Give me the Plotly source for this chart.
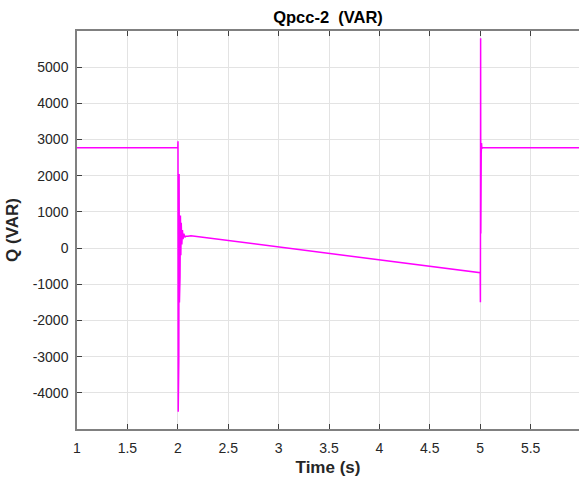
import plotly.graph_objects as go

# Time (s) and reactive power Q (VAR)
time_s = [1.0, 2.0, 2.002, 2.004, 2.006, 2.008, 2.010, 2.013, 2.016, 2.019, 2.022,
          2.026, 2.030, 2.034, 2.040, 2.046, 2.052, 2.060, 2.070, 2.080, 2.100, 2.130,
          5.0, 5.002, 5.004, 5.006, 5.008, 5.010, 5.013, 5.016, 5.020, 6.0]
q_var = [2770, 2770, 2950, -4520, 1200, -1500, -3100, 2050, -1500, 1100, -800,
         900, -200, 700, 100, 500, 250, 400, 300, 330, 330, 340,
         -680, -1500, 5800, 400, 4250, 2600, 2900, 2750, 2770, 2770]

x_ticks = [1, 1.5, 2, 2.5, 3, 3.5, 4, 4.5, 5, 5.5]
x_labels = ["1", "1.5", "2", "2.5", "3", "3.5", "4", "4.5", "5", "5.5"]
y_ticks = [-4000, -3000, -2000, -1000, 0, 1000, 2000, 3000, 4000, 5000]
y_labels = ["-4000", "-3000", "-2000", "-1000", "0", "1000", "2000", "3000", "4000", "5000"]

font = "Liberation Sans, Arial, sans-serif"

fig = go.Figure()
fig.add_trace(go.Scatter(x=time_s, y=q_var, mode="lines",
                         line=dict(color="#FF00FF", width=1.5), showlegend=False))

fig.update_layout(
    width=579, height=481,
    margin=dict(l=77, r=0, t=31, b=52),
    paper_bgcolor="white", plot_bgcolor="white",
    font=dict(family=font, size=14, color="#262626"),
    title=dict(text="<b>Qpcc-2  (VAR)</b>", x=(77 + 251) / 579, xanchor="center",
               y=1 - 17 / 481, yanchor="middle", font=dict(size=16.5, color="#000000")),
)
fig.update_xaxes(
    range=[1, 5.98], tickvals=x_ticks, ticktext=x_labels,
    showgrid=True, gridcolor="#e3e3e3", gridwidth=1,
    showline=True, linecolor="#808080", linewidth=1.5, mirror="ticks",
    ticks="inside", ticklen=5, tickcolor="#404040",
    tickfont=dict(size=14, color="#262626"), ticklabelstandoff=5,
    title=dict(text="<b>Time (s)</b>", font=dict(size=17, color="#262626"), standoff=7),
    zeroline=False,
)
fig.update_yaxes(
    range=[-5000, 6000], tickvals=y_ticks, ticktext=y_labels,
    showgrid=True, gridcolor="#e3e3e3", gridwidth=1,
    showline=True, linecolor="#808080", linewidth=1.5,
    ticks="inside", ticklen=5, tickcolor="#404040",
    tickfont=dict(size=14, color="#262626"), ticklabelstandoff=4,
    title=dict(text="<b>Q (VAR)</b>", font=dict(size=17, color="#262626"), standoff=10),
    zeroline=False,
)

fig.write_html("out.html")
